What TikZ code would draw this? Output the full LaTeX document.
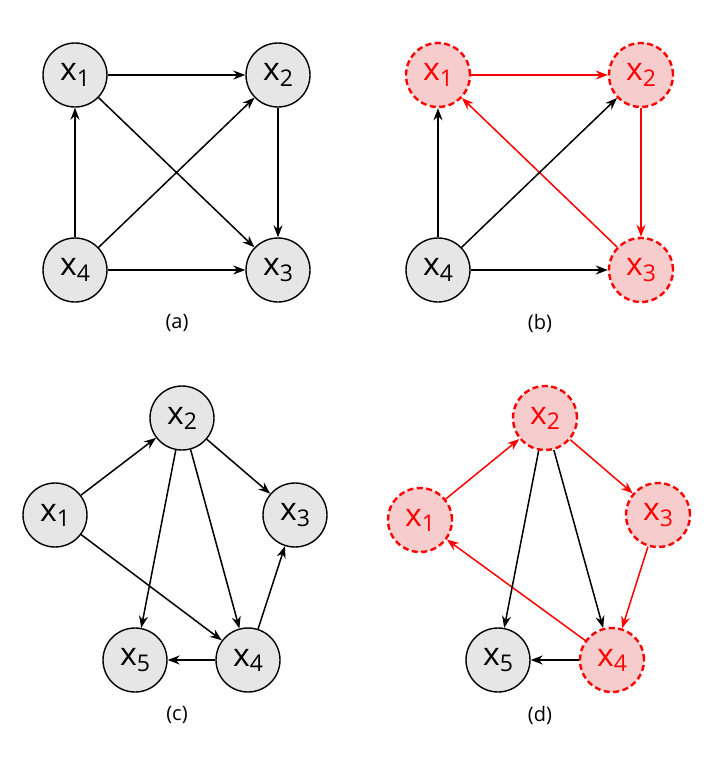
\documentclass[tikz,border=0pt]{standalone}
\usepackage{fontspec}
\setmainfont{Open Sans}
\usetikzlibrary{arrows.meta}
\definecolor{nodegray}{HTML}{E6E6E6}
\definecolor{nodepink}{HTML}{F7CCCC}
\newcommand{\xv}[1]{x\raisebox{-0.3ex}{\fontsize{23}{23}\selectfont #1}}
\begin{document}
\begin{tikzpicture}[x=1pt,y=-1pt,
   var/.style={circle,draw,line width=1.4pt,fill=nodegray,minimum size=64pt,inner sep=0pt,font=\fontsize{32}{32}\selectfont},
   cyc/.style={var,draw=red,fill=nodepink,text=red,line width=2.4pt,dash pattern=on 6pt off 3.5pt},
   to/.style={-{Stealth[length=12pt,width=9pt]},line width=1.5pt},
   rto/.style={to,red},
   caption/.style={font=\fontsize{20}{20}\selectfont}]
\useasboundingbox (0,0) rectangle (725,764);
% (a)
\node[var] (a1) at (75,75) {\xv{1}};
\node[var] (a2) at (278,75) {\xv{2}};
\node[var] (a3) at (278,270) {\xv{3}};
\node[var] (a4) at (75,270) {\xv{4}};
\node[caption] (la) at (177,323) {(a)};
\draw[to] (a1) -- (a2);
\draw[to] (a1) -- (a3);
\draw[to] (a4) -- (a1);
\draw[to] (a4) -- (a2);
\draw[to] (a4) -- (a3);
\draw[to] (a2) -- (a3);
% (b)
\node[cyc] (b1) at (438,75) {\xv{1}};
\node[cyc] (b2) at (641,75) {\xv{2}};
\node[cyc] (b3) at (641,270) {\xv{3}};
\node[var] (b4) at (438,270) {\xv{4}};
\node[caption] (lb) at (540,323) {(b)};
\draw[rto] (b1) -- (b2);
\draw[rto] (b2) -- (b3);
\draw[rto] (b3) -- (b1);
\draw[to] (b4) -- (b1);
\draw[to] (b4) -- (b2);
\draw[to] (b4) -- (b3);
% (c)
\node[var] (c2) at (182,418) {\xv{2}};
\node[var] (c1) at (55,515) {\xv{1}};
\node[var] (c3) at (295,515) {\xv{3}};
\node[var] (c5) at (135,660) {\xv{5}};
\node[var] (c4) at (248,660) {\xv{4}};
\node[caption] (lc) at (177,715) {(c)};
\draw[to] (c1) -- (c2);
\draw[to] (c1) -- (c4);
\draw[to] (c2) -- (c3);
\draw[to] (c2) -- (c5);
\draw[to] (c2) -- (c4);
\draw[to] (c4) -- (c3);
\draw[to] (c4) -- (c5);
% (d)
\node[cyc] (d2) at (545,418) {\xv{2}};
\node[cyc] (d1) at (420,520) {\xv{1}};
\node[cyc] (d3) at (658,515) {\xv{3}};
\node[var] (d5) at (498,660) {\xv{5}};
\node[cyc] (d4) at (612,660) {\xv{4}};
\node[caption] (ld) at (540,715) {(d)};
\draw[rto] (d1) -- (d2);
\draw[rto] (d2) -- (d3);
\draw[rto] (d3) -- (d4);
\draw[rto] (d4) -- (d1);
\draw[to] (d2) -- (d5);
\draw[to] (d2) -- (d4);
\draw[to] (d4) -- (d5);
\end{tikzpicture}
\end{document}
